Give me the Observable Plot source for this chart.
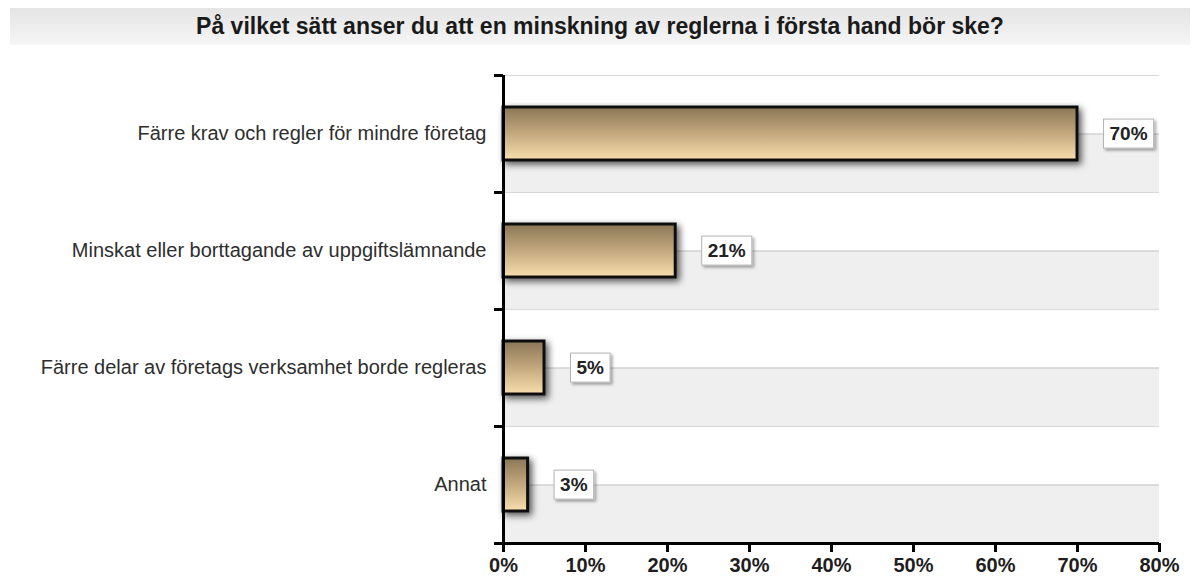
<!DOCTYPE html>
<html><head><meta charset="utf-8">
<script src="https://cdn.jsdelivr.net/npm/d3@7"></script>
<script src="https://cdn.jsdelivr.net/npm/@observablehq/plot@0.6"></script>
<style>
body{margin:0;background:#fff;font-family:"Liberation Sans",Arial,sans-serif;}
#wrap{position:relative;width:1201px;height:576px;overflow:hidden;}
#title{position:absolute;left:10px;top:8px;width:1180px;height:37px;background:linear-gradient(#e4e4e4,#f6f6f6);font-weight:bold;font-size:23px;color:#1a1a1a;text-align:center;line-height:37px;}
#chart{position:absolute;left:0;top:0;}
</style></head><body>
<div id="wrap"><div id="chart"></div><div id="title">På vilket sätt anser du att en minskning av reglerna i första hand bör ske?</div></div>
<script>
const categories = [
  "Färre krav och regler för mindre företag",
  "Minskat eller borttagande av uppgiftslämnande",
  "Färre delar av företags verksamhet borde regleras",
  "Annat"
];
const values = [0.70, 0.21, 0.05, 0.03];
const valueLabels = ["70%", "21%", "5%", "3%"];
const xTicks = [0, 0.1, 0.2, 0.3, 0.4, 0.5, 0.6, 0.7, 0.8];

const data = categories.map((c, i) => ({cat: c, value: values[i], label: valueLabels[i]}));
const xMax = xTicks[xTicks.length - 1];
const W = 1201, H = 576, mL = 503, mR = 42, mT = 75, mB = 33;
const half = (H - mT - mB) / categories.length / 2;

const chart = Plot.plot({
  width: W, height: H, marginLeft: mL, marginRight: mR, marginTop: mT, marginBottom: mB,
  style: {fontFamily: "Liberation Sans, Arial, sans-serif", background: "transparent", overflow: "visible"},
  x: {domain: [0, xMax], label: null},
  y: {domain: categories, padding: 0, label: null},
  marks: [
    Plot.barX(data, {y: "cat", x1: () => 0, x2: () => xMax, insetTop: half, fill: "#efefef"}),
    Plot.ruleY(data, {y: "cat", dy: -half, stroke: "#d8d8d8", strokeWidth: 1}),
    Plot.ruleY(data, {y: "cat", stroke: "#c4c4c4", strokeWidth: 1}),
    Plot.barX(data, {y: "cat", x: "value", insetTop: 32, insetBottom: 32, fill: "url(#barGrad)", stroke: "#111", strokeWidth: 3}),
    Plot.text(data, {y: "cat", x: "value", text: "label", textAnchor: "start", dx: 32, fontWeight: "bold", fontSize: 19, fill: "#222"}),
    Plot.ruleX([0], {stroke: "#000", strokeWidth: 3}),
    Plot.ruleY([categories[categories.length - 1]], {dy: half, stroke: "#000", strokeWidth: 3}),
    Plot.axisY({tickSize: 0, tickPadding: 17, fontSize: 20, fill: "#2e2e2e", label: null}),
    Plot.axisY({tickSize: 9, tickFormat: () => "", dy: -half, strokeWidth: 3, stroke: "#000", label: null}),
    Plot.axisY([categories[categories.length - 1]], {tickSize: 9, tickFormat: () => "", dy: half, strokeWidth: 3, stroke: "#000", label: null}),
    Plot.axisX({ticks: xTicks, tickFormat: d3.format(".0%"), tickSize: 9, tickPadding: 5, strokeWidth: 3, stroke: "#000", fill: "#1e1e1e", fontWeight: "bold", fontSize: 20, label: null})
  ]
});
document.getElementById("chart").appendChild(chart);

const svg = d3.select(chart);
const defs = svg.insert("defs", ":first-child");
const g = defs.append("linearGradient").attr("id", "barGrad").attr("x1", 0).attr("y1", 0).attr("x2", 0).attr("y2", 1);
g.append("stop").attr("offset", "0%").attr("stop-color", "#8a7656");
g.append("stop").attr("offset", "50%").attr("stop-color", "#c3a87e");
g.append("stop").attr("offset", "100%").attr("stop-color", "#f8dfad");
const f = defs.append("filter").attr("id", "shadow").attr("x", "-20%").attr("y", "-30%").attr("width", "150%").attr("height", "180%");
f.append("feDropShadow").attr("dx", 3).attr("dy", 3).attr("stdDeviation", 3.5).attr("flood-color", "#000").attr("flood-opacity", 0.65);
const f2 = defs.append("filter").attr("id", "shadow2").attr("x", "-30%").attr("y", "-30%").attr("width", "170%").attr("height", "180%");
f2.append("feDropShadow").attr("dx", 2).attr("dy", 2).attr("stdDeviation", 1.5).attr("flood-color", "#000").attr("flood-opacity", 0.35);

const barGroups = chart.querySelectorAll('g[aria-label="bar"]');
if (barGroups[1]) barGroups[1].setAttribute("filter", "url(#shadow)");

const textGroup = chart.querySelector('g[aria-label="text"]');
if (textGroup) {
  textGroup.querySelectorAll("text").forEach(t => {
    const b = t.getBBox();
    const r = document.createElementNS("http://www.w3.org/2000/svg", "rect");
    const px = 6, py = 4;
    r.setAttribute("x", b.x - px);
    r.setAttribute("y", b.y - py);
    r.setAttribute("width", b.width + 2 * px);
    r.setAttribute("height", b.height + 2 * py);
    r.setAttribute("fill", "#fff");
    r.setAttribute("stroke", "#b5b5b5");
    r.setAttribute("stroke-width", 1);
    r.setAttribute("filter", "url(#shadow2)");
    if (t.getAttribute("transform")) r.setAttribute("transform", t.getAttribute("transform"));
    t.parentNode.insertBefore(r, t);
  });
}
</script>
</body></html>
